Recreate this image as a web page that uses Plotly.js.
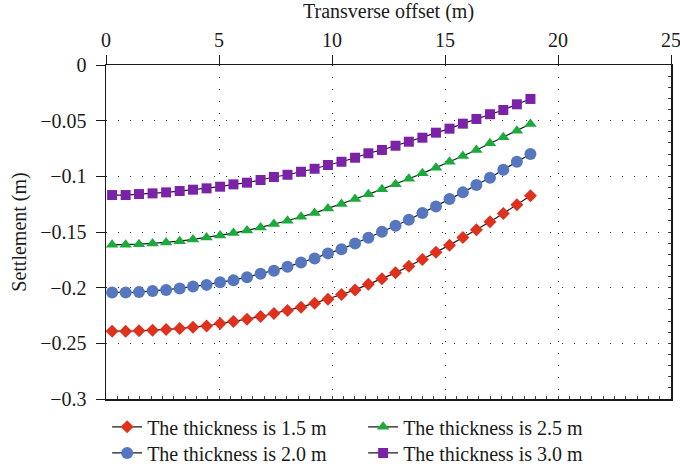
<!DOCTYPE html>
<html>
<head>
<meta charset="utf-8">
<script src="https://cdn.plot.ly/plotly-3.0.1.min.js"></script>
<style>
  html, body { margin: 0; padding: 0; background: #fff; }
  #chart { width: 680px; height: 466px; }
</style>
</head>
<body>
<div id="chart"></div>
<script>
// Transverse offset (m)
const offset = [0.27, 0.87, 1.46, 2.06, 2.66, 3.26, 3.85, 4.45, 5.05, 5.64, 6.24, 6.84, 7.43, 8.03, 8.63, 9.23,
                9.82, 10.42, 11.02, 11.61, 12.21, 12.81, 13.40, 14.00, 14.60, 15.20, 15.79, 16.39, 16.99, 17.58, 18.18, 18.78];

// Settlement (m) for each layer thickness
const thick15 = [-0.2391, -0.2391, -0.2388, -0.2382, -0.2376, -0.2367, -0.2355, -0.2344, -0.2322, -0.2304, -0.2283,
                 -0.2259, -0.2232, -0.2205, -0.2175, -0.2139, -0.2103, -0.2061, -0.2020, -0.1969, -0.1921, -0.1867,
                 -0.1807, -0.1746, -0.1683, -0.1618, -0.1549, -0.1480, -0.1408, -0.1333, -0.1255, -0.1174];
const thick20 = [-0.2043, -0.2043, -0.2040, -0.2029, -0.2020, -0.2007, -0.1989, -0.1975, -0.1951, -0.1933, -0.1906,
                 -0.1876, -0.1849, -0.1813, -0.1773, -0.1737, -0.1692, -0.1654, -0.1603, -0.1552, -0.1498, -0.1444,
                 -0.1390, -0.1330, -0.1270, -0.1204, -0.1144, -0.1078, -0.1013, -0.0941, -0.0869, -0.0799];
const thick25 = [-0.1615, -0.1615, -0.1609, -0.1603, -0.1594, -0.1582, -0.1567, -0.1549, -0.1531, -0.1510, -0.1486,
                 -0.1459, -0.1429, -0.1399, -0.1363, -0.1330, -0.1288, -0.1249, -0.1204, -0.1162, -0.1117, -0.1072,
                 -0.1022, -0.0973, -0.0923, -0.0869, -0.0817, -0.0763, -0.0703, -0.0649, -0.0590, -0.0530];
const thick30 = [-0.1168, -0.1168, -0.1159, -0.1153, -0.1144, -0.1132, -0.1120, -0.1108, -0.1093, -0.1072, -0.1057,
                 -0.1033, -0.1006, -0.0986, -0.0959, -0.0932, -0.0898, -0.0869, -0.0833, -0.0793, -0.0763, -0.0725,
                 -0.0689, -0.0653, -0.0608, -0.0572, -0.0527, -0.0485, -0.0442, -0.0404, -0.0353, -0.0305];

const seriesNames = ["The thickness is 1.5 m", "The thickness is 2.0 m", "The thickness is 2.5 m", "The thickness is 3.0 m"];

const xTickVals = [0, 5, 10, 15, 20, 25];
const xTickText = ["0", "5", "10", "15", "20", "25"];
const yTickVals = [0, -0.05, -0.1, -0.15, -0.2, -0.25, -0.3];
const yTickText = ["0", "\u22120.05", "\u22120.1", "\u22120.15", "\u22120.2", "\u22120.25", "\u22120.3"];

const FONT = "Liberation Serif, Times New Roman, serif";

function series(y, name, color, symbol, size, legend) {
  return {
    x: offset, y: y, name: name, type: "scatter", mode: "lines+markers",
    line: { color: "#1a1a1a", width: 1.2 },
    marker: { color: color, symbol: symbol, size: size, line: { width: 0 } },
    legend: legend
  };
}

const traces = [
  series(thick15, seriesNames[0], "#e0301e", "diamond", 10, "legend"),
  series(thick25, seriesNames[2], "#1aab3c", "triangle-up", 11, "legend"),
  series(thick20, seriesNames[1], "#5677c0", "circle", 12, "legend2"),
  series(thick30, seriesNames[3], "#7b22a8", "square", 10, "legend2"),
  { x: [null], y: [null], xaxis: "x2", yaxis: "y2", type: "scatter", mode: "markers", showlegend: false, hoverinfo: "skip" }
];

const axisCommon = {
  showline: true, linecolor: "#1a1a1a", linewidth: 1.5,
  ticks: "outside", ticklen: 9, tickwidth: 1, tickcolor: "#1a1a1a",
  showgrid: true, gridcolor: "#333", gridwidth: 1, griddash: "1px,11px",
  zeroline: false, automargin: false, ticklabeloverflow: "allow",
  tickfont: { family: FONT, size: 20, color: "#1a1a1a" }
};

const layout = {
  width: 680, height: 466,
  margin: { l: 106, r: 9, t: 65, b: 67, autoexpand: false },
  paper_bgcolor: "#fff", plot_bgcolor: "#fff",
  font: { family: FONT, size: 20, color: "#1a1a1a" },
  xaxis: Object.assign({}, axisCommon, {
    side: "top", range: [0, 25], tickmode: "array", tickvals: xTickVals, ticktext: xTickText,
    ticklabelstandoff: 0,
    title: { text: "Transverse offset (m)", font: { family: FONT, size: 20 }, standoff: 4 }
  }),
  yaxis: Object.assign({}, axisCommon, {
    range: [-0.3, 0], tickmode: "array", tickvals: yTickVals, ticktext: yTickText,
    ticklabelstandoff: 5,
    title: { text: "Settlement (m)", font: { family: FONT, size: 20 }, standoff: 8 }
  }),
  xaxis2: {
    overlaying: "x", anchor: "y", side: "bottom", range: [0, 25],
    showline: true, linecolor: "#1a1a1a", linewidth: 1.5,
    showgrid: false, zeroline: false, showticklabels: false,
    ticks: "inside", ticklen: 3, tickwidth: 1, tickcolor: "#444", dtick: 0.5, tick0: 0
  },
  yaxis2: {
    overlaying: "y", anchor: "x", side: "right", range: [-0.3, 0],
    showline: true, linecolor: "#1a1a1a", linewidth: 1.5,
    showgrid: false, zeroline: false, showticklabels: false,
    ticks: "inside", ticklen: 3, tickwidth: 1, tickcolor: "#444", dtick: 0.01, tick0: 0
  },
  showlegend: true,
  legend: {
    orientation: "h", x: 0.002, xanchor: "left", y: -0.025, yanchor: "top",
    entrywidth: 211, entrywidthmode: "pixels",
    font: { family: FONT, size: 20, color: "#1a1a1a" }, bgcolor: "rgba(0,0,0,0)", borderwidth: 0,
    traceorder: "normal"
  },
  legend2: {
    orientation: "h", x: 0.002, xanchor: "left", y: -0.103, yanchor: "top",
    entrywidth: 211, entrywidthmode: "pixels",
    font: { family: FONT, size: 20, color: "#1a1a1a" }, bgcolor: "rgba(0,0,0,0)", borderwidth: 0,
    traceorder: "normal"
  }
};

Plotly.newPlot("chart", traces, layout, { displayModeBar: false, staticPlot: true });
</script>
</body>
</html>
